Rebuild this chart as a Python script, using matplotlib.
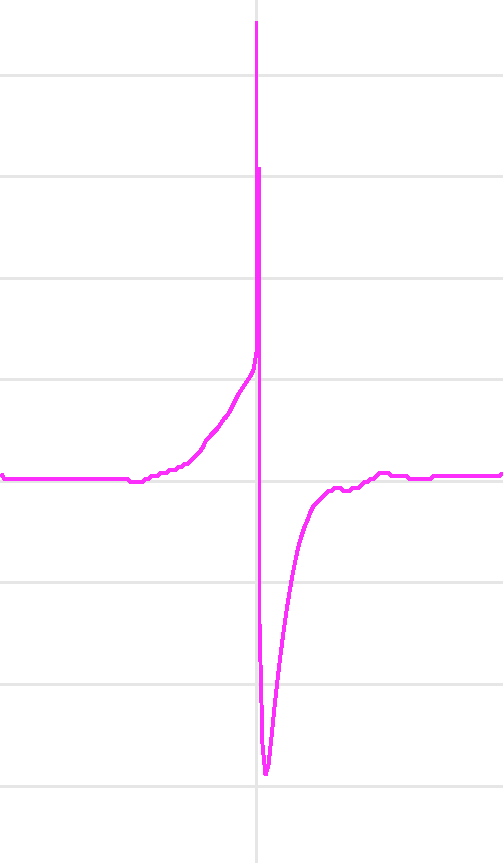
import numpy as np
import matplotlib
matplotlib.use("Agg")
import matplotlib.pyplot as plt

# samples, t = sample index from the spike, v in grid units
pre_t = [-85, -84, -43, -42, -38, -37, -36, -35, -33, -32, -30, -29, -27, -26, -25, -24, -23]
pre_v = [0.065, 0.015, 0.015, -0.014, -0.014, 0.015, 0.015, 0.044, 0.044, 0.074, 0.074,
         0.103, 0.103, 0.133, 0.133, 0.162, 0.162]

rise_t = [-22, -21, -20, -19, -18, -17, -16, -15, -14, -13, -12,
          -11, -10, -9, -8, -7, -6, -5, -4, -3, -2, -1]
rise_v = [0.192, 0.222, 0.251, 0.281, 0.323, 0.387, 0.421, 0.456, 0.485, 0.515, 0.559,
          0.604, 0.633, 0.677, 0.736, 0.796, 0.855, 0.899, 0.943, 0.988, 1.032, 1.091]

spike_t = [0, 0, 0, 1, 1]
spike_v = [1.268, 4.517, 3.070, 3.070, -1.390]

recovery_t = [2, 3, 4, 5, 6, 7, 8, 9, 10, 11, 12,
              13, 14, 15, 16, 17, 18, 19, 20, 21, 22, 23]
recovery_v = [-2.601, -2.897, -2.798, -2.522, -2.227, -1.961, -1.715, -1.489, -1.282, -1.095, -0.927,
              -0.780, -0.642, -0.543, -0.455, -0.386, -0.307, -0.248, -0.219, -0.189, -0.159, -0.130]

post_t = [24, 25, 26, 28, 29, 31, 32, 34, 35, 36, 37, 38, 39, 40, 41, 44, 45, 50, 51, 58, 59, 81, 82]
post_v = [-0.100, -0.100, -0.071, -0.071, -0.100, -0.100, -0.071, -0.071, -0.044, -0.015, -0.015,
          0.015, 0.015, 0.044, 0.074, 0.074, 0.044, 0.044, 0.015, 0.015, 0.044, 0.044, 0.074]

grid_levels = [-3, -2, -1, 0, 1, 2, 3, 4]

t = np.array(pre_t + rise_t + spike_t + recovery_t + post_t, dtype=float)
v = np.array(pre_v + rise_v + spike_v + recovery_v + post_v)

fig = plt.figure(figsize=(5.03, 8.63), dpi=100)
ax = fig.add_axes([0, 0, 1, 1])
ax.set_xlim(-85.5, 82.17)
ax.set_ylim(-3.763, 4.7335)
ax.axis("off")

gridcol = "#e6e6e6"
for g in grid_levels:
    ax.axhline(g, color=gridcol, lw=2.16, antialiased=False, zorder=1)
ax.axvline(0, color=gridcol, lw=2.16, antialiased=False, zorder=1)

ax.plot(t, v, color="#fb2efb", lw=2.1, antialiased=False,
        solid_capstyle="butt", solid_joinstyle="miter", zorder=3)

fig.savefig("out.png", dpi=100, facecolor="white")
